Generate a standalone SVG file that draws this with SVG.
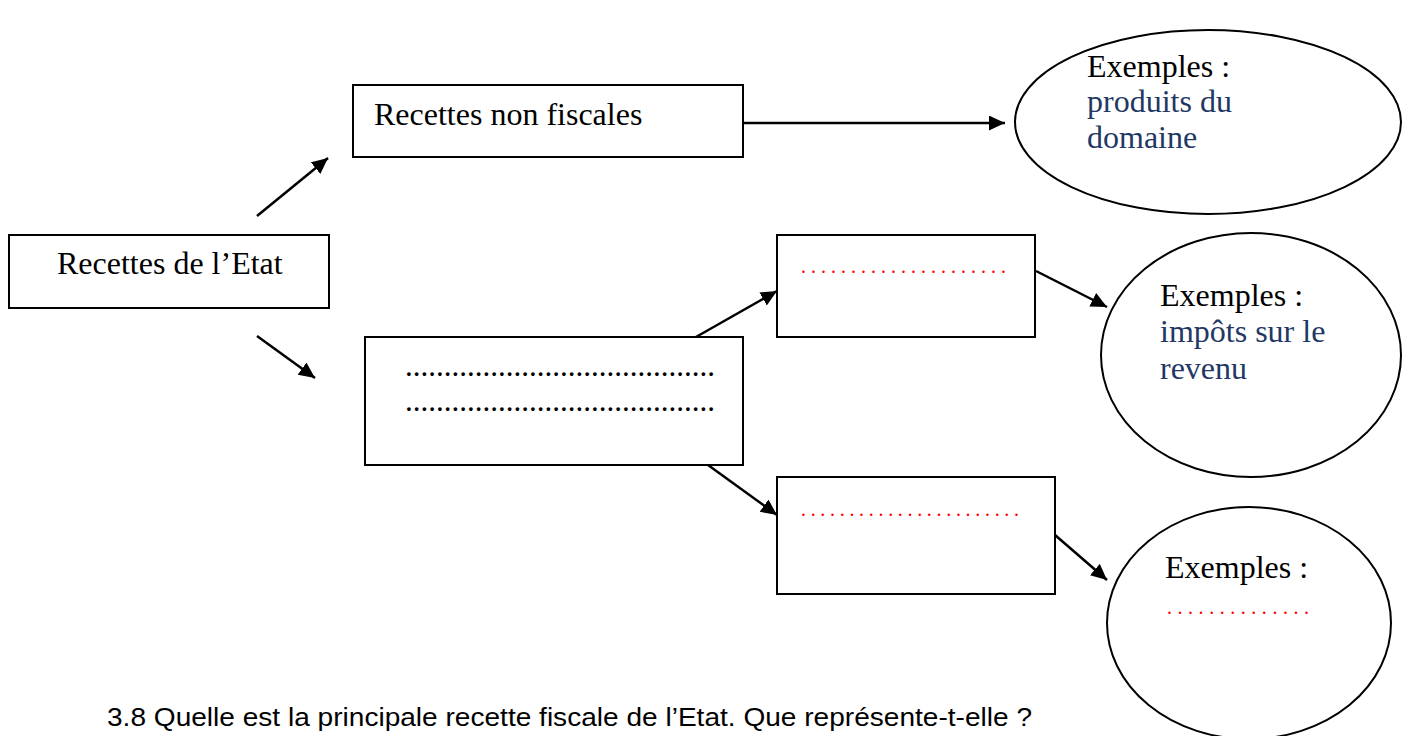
<svg xmlns="http://www.w3.org/2000/svg" width="1410" height="736" viewBox="0 0 1410 736">
<defs>
<style>
.box{fill:#fff;stroke:#000;stroke-width:2}
.ell{fill:#fff;stroke:#000;stroke-width:2}
.t{font-family:"Liberation Serif","Times New Roman",serif;font-size:32px;fill:#000}
.blue{fill:#1F3864}
.reddots{font-family:"Liberation Serif","Times New Roman",serif;font-size:20px;fill:#FF0000}
.blackdots{font-family:"Liberation Serif","Times New Roman",serif;font-size:31px;fill:#000}
.q{font-family:"Liberation Sans",Arial,sans-serif;font-size:25px;fill:#000}
.conn{stroke:#000;stroke-width:2.5;fill:none;marker-end:url(#arr)}
</style>
<marker id="arr" markerUnits="userSpaceOnUse" markerWidth="18" markerHeight="16" refX="16" refY="7.5" orient="auto">
<path d="M0,0 L16,7.5 L0,15 Z" fill="#000"/>
</marker>
</defs>
<rect width="1410" height="736" fill="#fff"/>

<g id="connectors">
<line class="conn" x1="257" y1="216" x2="328" y2="158"/>
<line class="conn" x1="257" y1="336" x2="315" y2="378"/>
<line class="conn" x1="743" y1="123" x2="1005" y2="123"/>
<line class="conn" x1="696" y1="337" x2="777" y2="291"/>
<line class="conn" x1="708" y1="465" x2="777" y2="515"/>
<line class="conn" x1="1036" y1="271" x2="1107" y2="307"/>
<line class="conn" x1="1055" y1="535" x2="1107" y2="580"/>
</g>

<g id="node-recettes-etat">
<rect class="box" x="9" y="235" width="320" height="73"/>
<text class="t" x="57" y="274">Recettes de l’Etat</text>
</g>

<g id="node-non-fiscales">
<rect class="box" x="353" y="85" width="390" height="72"/>
<text class="t" x="374" y="125">Recettes non fiscales</text>
</g>

<g id="node-fiscales">
<rect class="box" x="365" y="337" width="378" height="128"/>
<text class="blackdots" x="405" y="376" textLength="310" lengthAdjust="spacing">........................................</text>
<text class="blackdots" x="405" y="411" textLength="310" lengthAdjust="spacing">........................................</text>
</g>

<g id="node-directs">
<rect class="box" x="777" y="235" width="258" height="102"/>
<text class="reddots" x="801" y="273" textLength="205" lengthAdjust="spacing">.....................</text>
</g>

<g id="node-indirects">
<rect class="box" x="777" y="477" width="278" height="117"/>
<text class="reddots" x="801" y="516" textLength="218" lengthAdjust="spacing">.......................</text>
</g>

<g id="node-ex1">
<ellipse class="ell" cx="1208" cy="122" rx="193" ry="92"/>
<text class="t" x="1087" y="77">Exemples :</text>
<text class="t blue" x="1087" y="112">produits du</text>
<text class="t blue" x="1087" y="148">domaine</text>
</g>

<g id="node-ex2">
<ellipse class="ell" cx="1251" cy="355" rx="150" ry="122"/>
<text class="t" x="1160" y="306">Exemples :</text>
<text class="t blue" x="1160" y="342">impôts sur le</text>
<text class="t blue" x="1160" y="379">revenu</text>
</g>

<g id="node-ex3">
<ellipse class="ell" cx="1249" cy="623" rx="142" ry="116"/>
<text class="t" x="1165" y="578">Exemples :</text>
<text class="reddots" x="1167" y="614" textLength="142" lengthAdjust="spacing">..............</text>
</g>

<text class="q" x="107" y="726" textLength="925" lengthAdjust="spacingAndGlyphs">3.8 Quelle est la principale recette fiscale de l’Etat. Que représente-t-elle ?</text>
</svg>
